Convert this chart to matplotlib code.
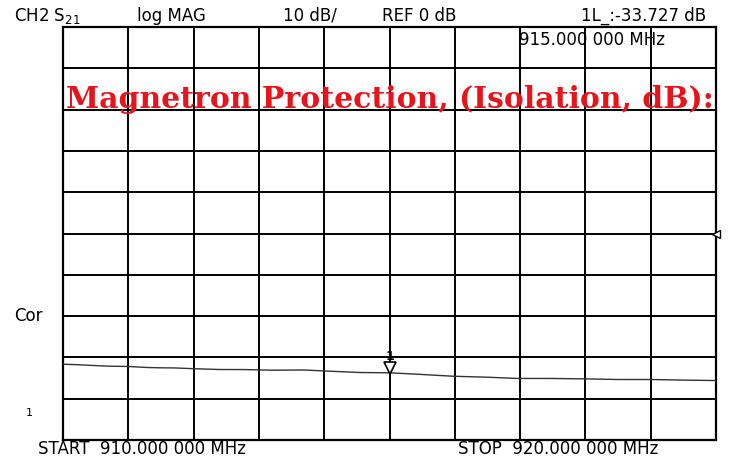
import numpy as np
import matplotlib.pyplot as plt

# trace (CH2 S21, log MAG)
freq_mhz = [910.0, 910.2, 910.45, 910.72, 911.0, 911.3, 911.49, 911.7,
            912.05, 912.4, 912.8, 913.2, 913.68, 914.1, 914.55, 915.0,
            915.4, 915.96, 916.5, 916.97, 917.46, 918.0, 918.49, 919.0,
            919.5, 920.0]
s21_db = [-31.65, -31.75, -31.95, -32.13, -32.2, -32.45, -32.52, -32.55,
          -32.76, -32.93, -32.95, -33.1, -33.05, -33.35, -33.66, -33.73,
          -34.05, -34.55, -34.8, -35.1, -35.1, -35.2, -35.35, -35.35,
          -35.5, -35.6]

marker_freq = 915.0
marker_db = -33.727
ref_db = 0
start_mhz, stop_mhz = 910.0, 920.0
db_per_div = 10

fig = plt.figure(figsize=(7.29, 4.59), dpi=100)
ax = fig.add_axes([63 / 729, 19 / 459, 653 / 729, 413 / 459])

ax.plot(freq_mhz, s21_db, color='#333333', lw=1.0, zorder=3)

ax.set_xlim(start_mhz, stop_mhz)
ax.set_ylim(ref_db - 5 * db_per_div, ref_db + 5 * db_per_div)
ax.set_xticks(np.linspace(start_mhz, stop_mhz, 11))
ax.set_yticks(np.arange(ref_db - 5 * db_per_div, ref_db + 5 * db_per_div + 1, db_per_div))
ax.grid(True, color='black', lw=1.4)
ax.tick_params(length=0, labelbottom=False, labelleft=False)
for sp in ax.spines.values():
    sp.set_color('black')
    sp.set_linewidth(1.6)

# marker 1
ax.plot(marker_freq, marker_db + 1.1, marker='v', ms=9, mfc='white', mec='black', mew=1.2, zorder=4)
ax.text(marker_freq, marker_db + 2.3, '1', ha='center', va='bottom', fontsize=9,
        fontweight='bold', family='DejaVu Sans', zorder=5)

# reference position arrow on right edge
ax.plot(stop_mhz, ref_db, marker='<', ms=6, mfc='white', mec='black', mew=1.0,
        clip_on=False, zorder=4)

f = dict(family='DejaVu Sans', fontsize=12, color='black')
fig.text(14 / 729, 1 - 21 / 459, 'CH2 S$_{21}$', **f)
fig.text(137 / 729, 1 - 21 / 459, 'log MAG', **f)
fig.text(283 / 729, 1 - 21 / 459, '10 dB/', **f)
fig.text(382 / 729, 1 - 21 / 459, 'REF 0 dB', **f)
fig.text(706 / 729, 1 - 21 / 459, '1L_:-33.727 dB', ha='right', **f)
fig.text(519 / 729, 1 - 45 / 459, '915.000 000 MHz', **f)
fig.text(14 / 729, 1 - 321 / 459, 'Cor', **f)
fig.text(26 / 729, 1 - 416 / 459, '1', fontsize=8, family='DejaVu Sans')
fig.text(38 / 729, 1 - 454 / 459, 'START  910.000 000 MHz', va='baseline', **f)
fig.text(458 / 729, 1 - 454 / 459, 'STOP  920.000 000 MHz', va='baseline', **f)

fig.text(390 / 729, 1 - 100 / 459, 'Magnetron Protection, (Isolation, dB):',
         ha='center', va='center', color='#e8141c', fontsize=21.5,
         fontweight='bold', family='DejaVu Serif')

fig.savefig('out.png', dpi=100)
